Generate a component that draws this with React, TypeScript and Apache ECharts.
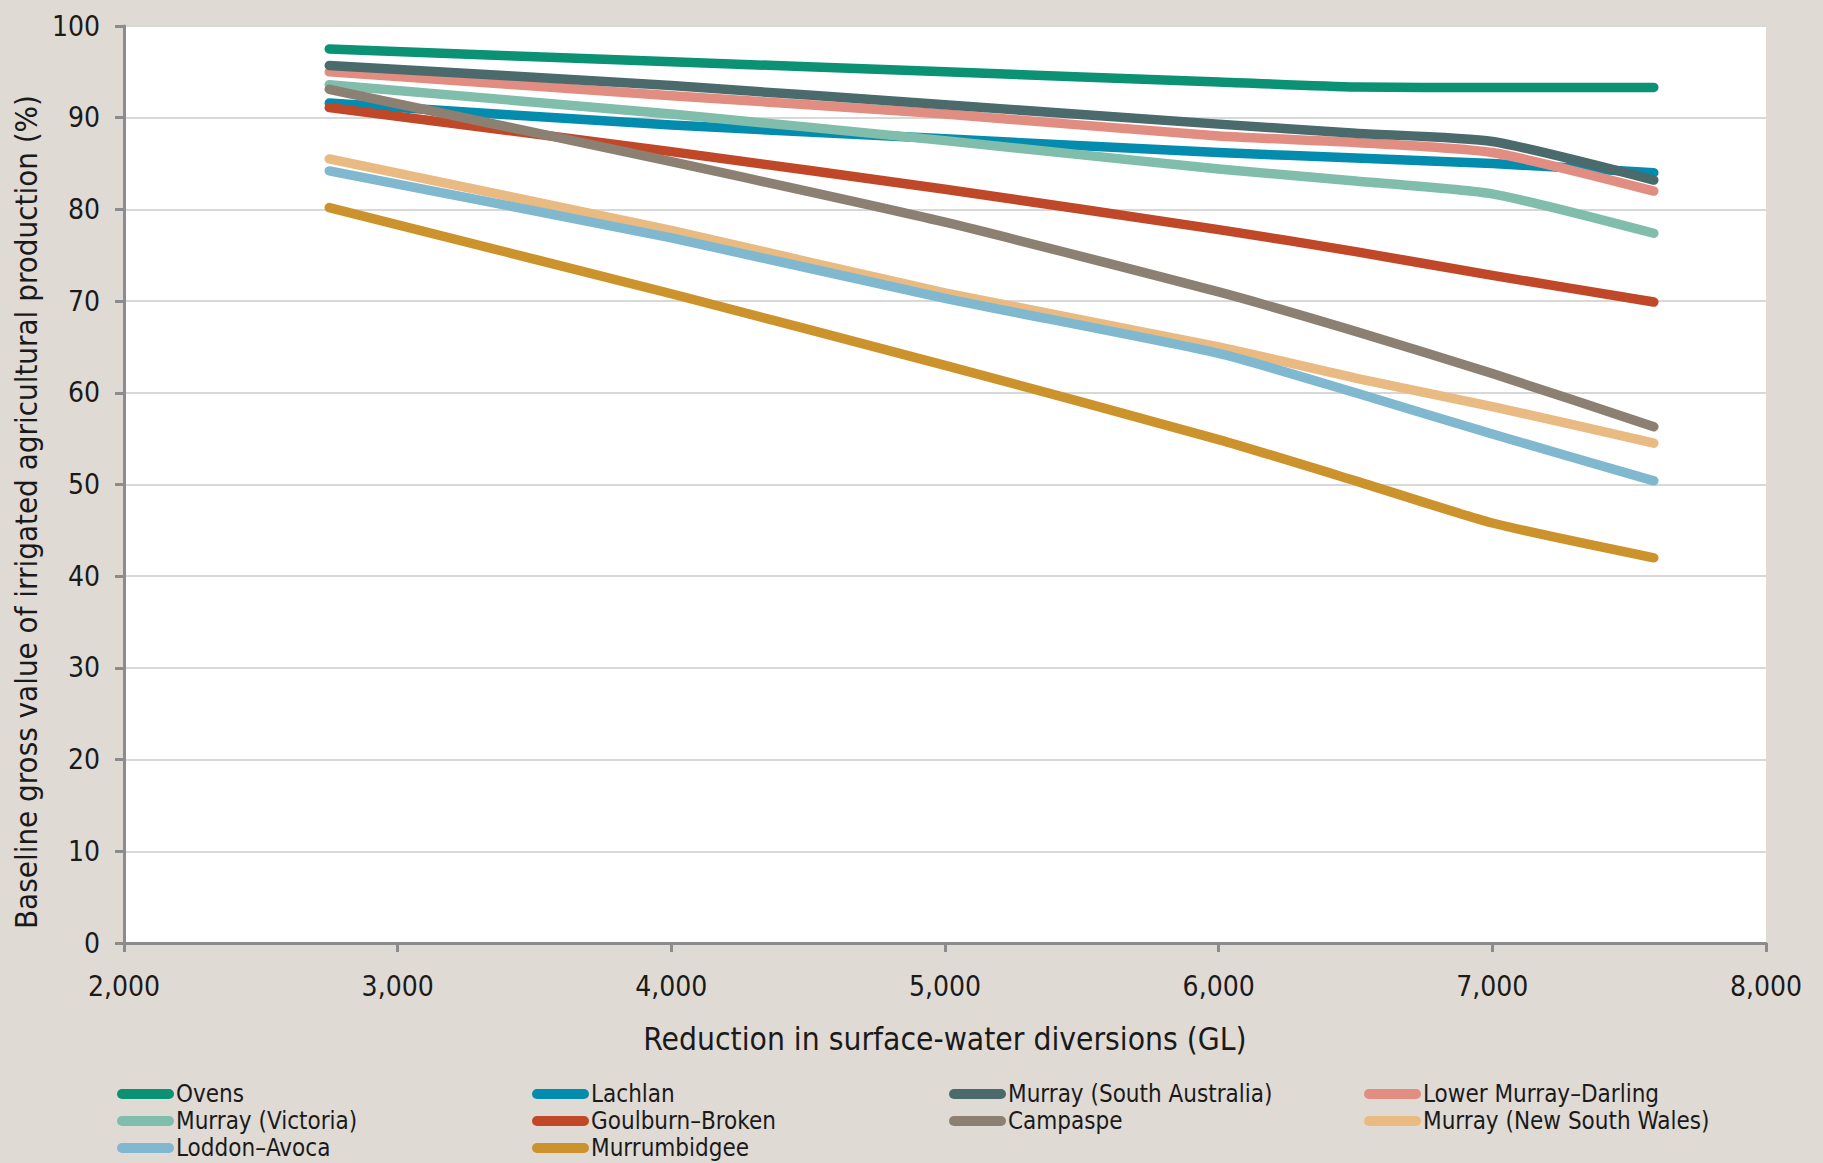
import React, { useEffect, useRef } from "react";
import * as echarts from "echarts";

// Reduction in surface-water diversions (GL)
const xValues = [2750, 4000, 5000, 6000, 6500, 7000, 7590];

// Baseline gross value of irrigated agricultural production (%)
const ovens = [97.5, 96.1, 95.0, 93.9, 93.35, 93.3, 93.3];
const lachlan = [91.6, 89.2, 87.7, 86.2, 85.6, 85.0, 84.0];
const murraySA = [95.7, 93.5, 91.4, 89.3, 88.3, 87.4, 83.2];
const lowerMurrayDarling = [95.0, 92.4, 90.4, 88.0, 87.3, 86.2, 82.0];
const murrayVic = [93.6, 90.4, 87.5, 84.4, 83.1, 81.7, 77.4];
const goulburnBroken = [91.1, 86.3, 82.2, 77.8, 75.4, 72.8, 69.9];
const campaspe = [93.1, 85.2, 78.6, 71.0, 66.7, 62.1, 56.3];
const murrayNSW = [85.5, 77.7, 70.9, 65.0, 61.6, 58.5, 54.5];
const loddonAvoca = [84.2, 76.9, 70.3, 64.3, 60.0, 55.5, 50.4];
const murrumbidgee = [80.2, 70.8, 63.0, 54.9, 50.4, 45.8, 42.0];

const colors: Record<string, string> = {
  Ovens: "#0b9173",
  Lachlan: "#048cae",
  "Murray (South Australia)": "#4a6a6b",
  "Lower Murray–Darling": "#e18d82",
  "Murray (Victoria)": "#80bdab",
  "Goulburn–Broken": "#c04828",
  Campaspe: "#8c8073",
  "Murray (New South Wales)": "#e9bb82",
  "Loddon–Avoca": "#80b8d0",
  Murrumbidgee: "#cc922b",
};

const seriesValues: Record<string, number[]> = {
  Ovens: ovens,
  Lachlan: lachlan,
  "Murray (South Australia)": murraySA,
  "Lower Murray–Darling": lowerMurrayDarling,
  "Murray (Victoria)": murrayVic,
  "Goulburn–Broken": goulburnBroken,
  Campaspe: campaspe,
  "Murray (New South Wales)": murrayNSW,
  "Loddon–Avoca": loddonAvoca,
  Murrumbidgee: murrumbidgee,
};

// drawing order (later = on top)
const drawOrder = [
  "Ovens",
  "Lachlan",
  "Lower Murray–Darling",
  "Murray (South Australia)",
  "Murray (Victoria)",
  "Goulburn–Broken",
  "Campaspe",
  "Murray (New South Wales)",
  "Loddon–Avoca",
  "Murrumbidgee",
];

const legendColumns = [
  ["Ovens", "Murray (Victoria)", "Loddon–Avoca"],
  ["Lachlan", "Goulburn–Broken", "Murrumbidgee"],
  ["Murray (South Australia)", "Campaspe"],
  ["Lower Murray–Darling", "Murray (New South Wales)"],
];
const legendLefts = [117, 532, 949, 1364];

const FONT = "'DejaVu Sans Condensed', 'DejaVu Sans', sans-serif";
const pill = "path://M5,0H52A5,5,0,0,1,52,10H5A5,5,0,0,1,5,0Z";

export default function App() {
  const ref = useRef<HTMLDivElement>(null);
  useEffect(() => {
    if (!ref.current) return;
    const chart = echarts.init(ref.current, null, { renderer: "svg" });
    const option: any = {
      animation: false,
      backgroundColor: "#e0dad5",
      textStyle: { fontFamily: FONT },
      grid: {
        left: 124,
        right: 57,
        top: 26,
        bottom: 220,
        show: true,
        backgroundColor: "#ffffff",
        borderWidth: 0,
      },
      xAxis: {
        type: "value",
        min: 2000,
        max: 8000,
        interval: 1000,
        name: "Reduction in surface-water diversions (GL)",
        nameLocation: "middle",
        nameGap: 80,
        nameTextStyle: { fontFamily: FONT, fontSize: 31.5, color: "#1a1a1a" },
        axisLine: { show: true, lineStyle: { color: "#8c8c8c", width: 3 } },
        axisTick: { show: true, length: 9, lineStyle: { color: "#8c8c8c", width: 3 } },
        axisLabel: {
          margin: 29,
          fontFamily: FONT,
          fontSize: 28,
          color: "#1a1a1a",
          formatter: (v: number) => v.toLocaleString("en-US"),
        },
        splitLine: { show: false },
      },
      yAxis: {
        type: "value",
        min: 0,
        max: 100,
        interval: 10,
        axisLine: { show: true, lineStyle: { color: "#8c8c8c", width: 3 } },
        axisTick: { show: true, length: 9, lineStyle: { color: "#8c8c8c", width: 3 } },
        axisLabel: { margin: 24, fontFamily: FONT, fontSize: 28, color: "#1a1a1a" },
        splitLine: { show: true, lineStyle: { color: "#d8d8d8", width: 2 } },
      },
      legend: legendColumns.map((col, i) => ({
        data: col,
        orient: "vertical",
        left: legendLefts[i],
        top: 1082,
        padding: 0,
        itemGap: 3,
        itemWidth: 57,
        itemHeight: 10,
        icon: pill,
        selectedMode: false,
        textStyle: { fontFamily: FONT, fontSize: 24, color: "#1a1a1a", lineHeight: 24, padding: [0, 0, 0, -3] },
      })),
      graphic: [
        {
          type: "text",
          x: 26,
          y: 512,
          rotation: Math.PI / 2,
          style: {
            text: "Baseline gross value of irrigated agricultural production (%)",
            fontFamily: FONT,
            fontSize: 31,
            fill: "#1a1a1a",
            align: "center",
            verticalAlign: "middle",
          },
        },
      ],
      series: drawOrder.map((name) => ({
        name,
        type: "line",
        data: xValues.map((x, i) => [x, seriesValues[name][i]]),
        smooth: 0.2,
        showSymbol: false,
        symbol: "none",
        color: colors[name],
        itemStyle: { color: colors[name] },
        lineStyle: { color: colors[name], width: 9.5, cap: "round", join: "round" },
      })),
    };
    chart.setOption(option);
    return () => chart.dispose();
  }, []);
  return (
    <div
      ref={ref}
      style={{ position: "fixed", left: 0, top: 0, width: 1823, height: 1163 }}
    />
  );
}
